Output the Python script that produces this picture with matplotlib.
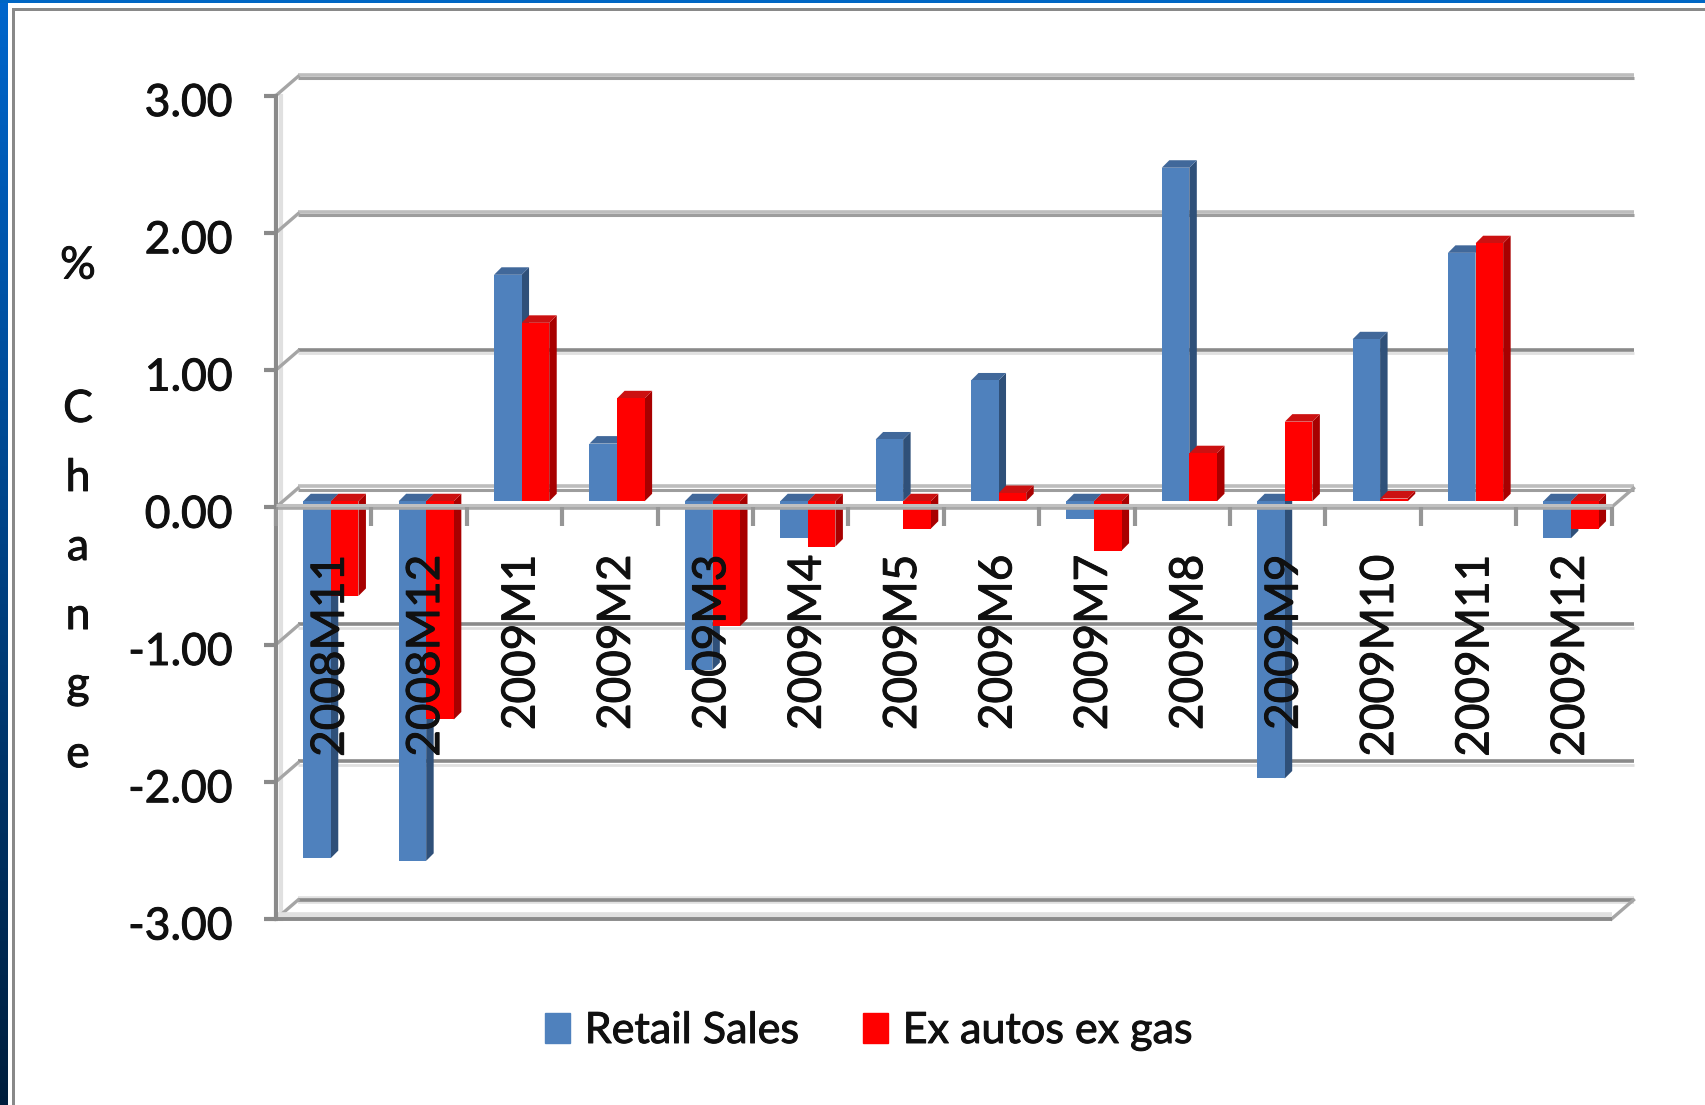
import numpy as np
import matplotlib
matplotlib.use("Agg")
import matplotlib.pyplot as plt
import matplotlib.patheffects as pe
from matplotlib.ticker import FixedLocator, FuncFormatter
from matplotlib.patches import Patch, Rectangle

categories = ["2008M11", "2008M12", "2009M1", "2009M2", "2009M3", "2009M4", "2009M5",
              "2009M6", "2009M7", "2009M8", "2009M9", "2009M10", "2009M11", "2009M12"]
retail_sales = [-2.60, -2.62, 1.65, 0.42, -1.23, -0.27, 0.45, 0.88, -0.13, 2.43, -2.02, 1.18, 1.81, -0.27]
ex_autos_ex_gas = [-0.69, -1.59, 1.30, 0.75, -0.91, -0.33, -0.20, 0.06, -0.36, 0.35, 0.58, 0.02, 1.88, -0.20]
y_ticks = [-3, -2, -1, 0, 1, 2, 3]

W, H = 1705, 1105
plt.rcParams['font.family'] = ['Lato', 'DejaVu Sans']
FS = 32
TXT = '#101010'
STROKE = [pe.withStroke(linewidth=0.7, foreground=TXT)]
fig = plt.figure(figsize=(W / 100, H / 100), dpi=100, facecolor='white')

# slide frame
bg = fig.add_axes([0, 0, 1, 1], zorder=0)
bg.set_xlim(0, W); bg.set_ylim(H, 0); bg.axis('off')
grad = np.linspace(0, 1, 256)[:, None, None] * np.array([[0.0, 0.12, 0.24]]) + \
       (1 - np.linspace(0, 1, 256)[:, None, None]) * np.array([[0.0, 0.40, 0.80]])
bg.imshow(grad, extent=[0, 8, H, 0], aspect='auto', zorder=1)
bg.set_xlim(0, W); bg.set_ylim(H, 0)
bg.add_patch(Rectangle((0, 0), W, 3, color='#0066c4', lw=0, zorder=2))
bg.add_patch(Rectangle((12, 8), W, 3, color='#898989', lw=0, zorder=2))
bg.add_patch(Rectangle((12, 8), 3, H, color='#898989', lw=0, zorder=2))

# plot axes: front plane
L, R, T, B = 276, 1611.5, 95.5, 919
ax = fig.add_axes([L / W, 1 - B / H, (R - L) / W, (B - T) / H], zorder=1)
ax.patch.set_alpha(0)
ax.set_xlim(-0.5, 13.5)
ax.set_ylim(-3, 3)
ux = 87.7 * 1.0874   # px per category
uy = (B - T) / 6     # px per unit
wall_dx, wall_dy = 22 / ux, 19 / uy
bar_dx, bar_dy = 7.5 / ux, 7.5 / uy
base = 6 / uy
bw = 27.5 / ux
GR, LT, MID = '#8a8a8a', '#e0e0e0', '#bdbdbd'

def hl(x0, x1, y, c, lw, z=1, dy=0):
    ax.plot([x0, x1], [y + dy / uy, y + dy / uy], color=c, lw=lw, clip_on=False,
            solid_capstyle='butt', zorder=z)

x0 = -0.5
xb = x0 + wall_dx
xe = 13.5 + wall_dx
# back-wall gridlines and depth connectors
for v in y_ticks:
    yb = v + wall_dy
    if v >= 2 or v == 0:
        hl(xb, xe, yb, MID, 2.6, dy=2)
        hl(xb, xe, yb, '#9d9d9d', 2.2, dy=-1.5)
    elif v == -3:
        hl(xb, xe, yb, LT, 5.5)
        hl(xb, xe, yb, GR, 2.6)
    else:
        hl(xb, xe, yb, GR, 2.6, dy=1.5)
        hl(xb, xe, yb, LT, 2.0, dy=-2)
    ax.plot([x0, xb], [v, yb], color='#a5a5a5', lw=2.4, clip_on=False, zorder=1)
ax.plot([13.5, xe], [-3, -3 + wall_dy], color='#a5a5a5', lw=2.4, clip_on=False, zorder=1)
ax.plot([13.5, xe], [0, wall_dy], color='#a5a5a5', lw=2.4, clip_on=False, zorder=1)
ax.plot([x0 + 5 / ux] * 2, [-3, 3], color=LT, lw=3, clip_on=False, zorder=0.8)

# front floor line at -3
hl(x0, 13.5, -3, LT, 5.5, dy=3)
hl(x0, 13.5, -3, GR, 2.8, dy=0)

# bars
def draw_series(vals, off, front, side, top, label):
    x = np.arange(len(vals)) + off
    rects = ax.bar(x, vals, width=bw, bottom=base, color=front, linewidth=0, zorder=3.2, label=label, clip_on=False)
    for xi, v in zip(x, vals):
        xl, xr = xi - bw / 2, xi + bw / 2
        y_top = base + max(v, 0)
        y_bot = base + min(v, 0)
        ax.fill([xr, xr + bar_dx, xr + bar_dx, xr],
                [y_bot, y_bot + bar_dy, y_top + bar_dy, y_top],
                color=side, lw=0, zorder=3.1, clip_on=False)
        ax.fill([xl, xl + bar_dx, xr + bar_dx, xr],
                [y_top, y_top + bar_dy, y_top + bar_dy, y_top],
                color=top, lw=0, zorder=3.1, clip_on=False)
    return rects

b1 = draw_series(retail_sales, -0.07, '#4f81bd', '#2f5079', '#41689a', 'Retail Sales')
b2 = draw_series(ex_autos_ex_gas, 0.22, '#ff0000', '#a80000', '#cc1111', 'Ex autos ex gas')

# front zero band
hl(x0, 13.5, 0, '#a8a8a8', 2.6, z=4, dy=-1)
hl(x0, 13.5, 0, '#c0c0c0', 2.2, z=4, dy=2.5)

# axes furniture
for s in ['top', 'right', 'bottom']:
    ax.spines[s].set_visible(False)
ax.spines['left'].set_color(GR)
ax.spines['left'].set_linewidth(3)
ax.spines['bottom'].set_position(('data', 0))
ax.yaxis.set_major_locator(FixedLocator(y_ticks))
ax.yaxis.set_major_formatter(FuncFormatter(lambda v, p: f"{v:.2f}"))
ax.tick_params(axis='y', length=9, width=3, color=GR, labelsize=FS, labelcolor=TXT, pad=22)
ax.set_xticks(range(len(categories)))
ax.set_xticklabels(categories, rotation=90, ha='center', va='top', fontsize=FS + 1, color=TXT)
ax.set_xticks(np.arange(-0.5, 14, 1), minor=True)
ax.tick_params(axis='x', which='major', length=0, pad=34)
ax.tick_params(axis='x', which='minor', length=14, width=3, color='#969696')
shift_x = matplotlib.transforms.Affine2D().translate(7, 0)
for t in ax.get_xticklabels():
    t.set_transform(t.get_transform() + shift_x)
    t.set_path_effects(STROKE)
shift_y = matplotlib.transforms.Affine2D().translate(0, -4)
for t in ax.get_yticklabels():
    t.set_transform(t.get_transform() + shift_y)
    t.set_path_effects(STROKE)
ax.xaxis.set_zorder(6)
ax.yaxis.set_zorder(6)

# vertical axis caption
fig.text(78 / W, 1 - 266 / H, "%", ha='center', va='center', fontsize=FS, color=TXT, path_effects=STROKE)
fig.text(78 / W, 1 - 582 / H, "C\nh\na\nn\ng\ne", ha='center', va='center', fontsize=FS,
         color=TXT, linespacing=1.85, path_effects=STROKE)

# legend
leg = fig.legend(handles=[Patch(color='#4f81bd', label='Retail Sales'), Patch(color='#ff0000', label='Ex autos ex gas')],
           loc='center', bbox_to_anchor=(868 / W, 1 - 1031 / H), ncol=2, frameon=False,
           fontsize=31, labelcolor=TXT, handlelength=0.58, handleheight=0.67, handletextpad=0.35,
           columnspacing=1.5, borderpad=0, borderaxespad=0)
for t in leg.get_texts():
    t.set_path_effects(STROKE)

fig.savefig("out.png", dpi=100, facecolor='white')
